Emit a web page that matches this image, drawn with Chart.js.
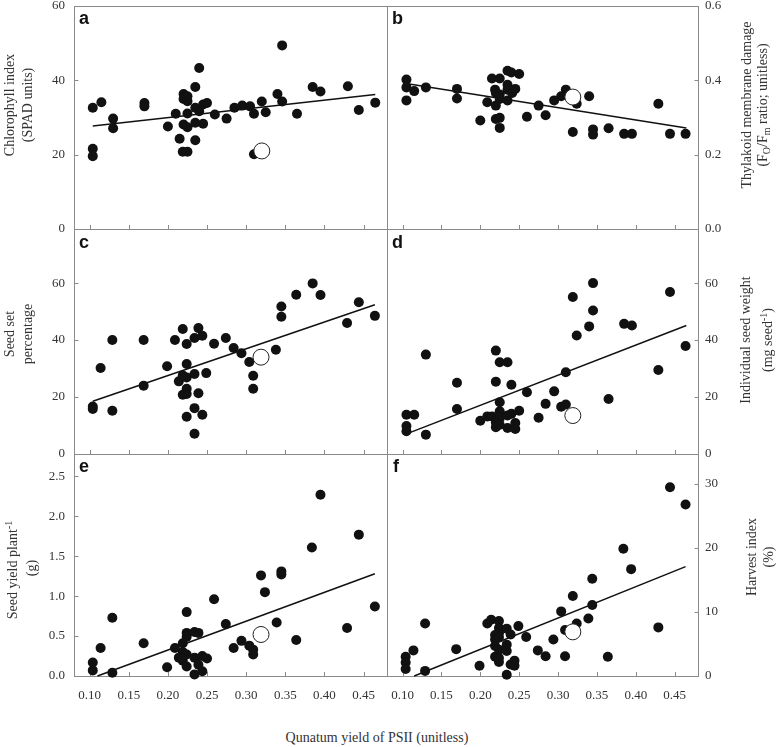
<!DOCTYPE html>
<html>
<head>
<meta charset="utf-8">
<script src="https://cdn.jsdelivr.net/npm/chart.js@4.4.1/dist/chart.umd.min.js"></script>
<style>
  body { margin: 0; background: #fff; }
  #wrap { position: relative; width: 778px; height: 747px; background: #fff; overflow: hidden;
          font-family: 'Liberation Serif', 'Times New Roman', serif; color: #333; }
  canvas { position: absolute; }
  .lbl { position: absolute; white-space: nowrap; font-size: 14px; line-height: 16px;
         transform: translate(-50%, -50%) rotate(-90deg); }
  .lbl sub, .lbl sup { font-size: 10px; }
  .letter { position: absolute; font-family: 'Liberation Sans', Arial, sans-serif; font-weight: bold;
            font-size: 18px; line-height: 18px; color: #111; }
  #xtitle { position: absolute; left: 377px; top: 738px; transform: translate(-50%, -50%);
            font-size: 14px; white-space: nowrap; }
</style>
</head>
<body>
<div id="wrap"></div>
<script>
// shared x ticks (quantum yield of PSII)
const xTicks = [0.10, 0.15, 0.20, 0.25, 0.30, 0.35, 0.40, 0.45];

// a - chlorophyll index
const aX = [0.104,0.104,0.104,0.115,0.130,0.130,0.170,0.170,0.200,0.210,0.215,0.219,0.220,0.220,0.220,0.225,0.225,0.225,0.225,0.225,0.235,0.235,0.235,0.235,0.240,0.240,0.245,0.245,0.250,0.260,0.275,0.285,0.295,0.305,0.310,0.310,0.320,0.325,0.340,0.346,0.346,0.365,0.385,0.395,0.430,0.444,0.465];
const aY = [32.6,21.6,19.6,34.1,29.7,27.1,33.9,33.0,27.6,31.0,24.3,20.8,36.3,35.0,28.1,20.8,35.7,34.4,31.1,27.4,38.2,32.6,28.6,23.9,43.3,31.7,33.5,28.3,33.9,30.8,29.7,32.6,33.2,33.0,31.0,20.1,34.3,31.4,36.3,49.4,34.3,31.0,38.2,37.0,38.4,32.0,34.0];
const aOpenX = [0.320], aOpenY = [21.0];
const aFitX = [0.104, 0.465], aFitY = [27.7, 36.2];
const aTicks = [0, 20, 40, 60];

// b - thylakoid membrane damage
const bX = [0.105,0.105,0.105,0.115,0.130,0.170,0.170,0.200,0.209,0.215,0.219,0.220,0.220,0.220,0.225,0.225,0.225,0.225,0.225,0.235,0.235,0.235,0.235,0.240,0.241,0.245,0.250,0.260,0.275,0.284,0.295,0.304,0.310,0.319,0.324,0.340,0.345,0.345,0.365,0.385,0.395,0.429,0.444,0.464];
const bY = [0.402,0.381,0.346,0.371,0.381,0.377,0.351,0.292,0.341,0.405,0.375,0.366,0.332,0.296,0.405,0.362,0.350,0.299,0.272,0.426,0.388,0.375,0.346,0.421,0.366,0.377,0.417,0.302,0.332,0.306,0.346,0.357,0.375,0.261,0.337,0.357,0.268,0.254,0.271,0.256,0.256,0.337,0.256,0.256];
const bOpenX = [0.319], bOpenY = [0.355];
const bFitX = [0.1085, 0.465], bFitY = [0.390, 0.272];
const bTicks = [0, 0.2, 0.4, 0.6];

// c - seed set percentage
const cX = [0.104,0.104,0.114,0.129,0.129,0.169,0.169,0.199,0.209,0.214,0.219,0.219,0.219,0.224,0.224,0.224,0.224,0.224,0.224,0.234,0.234,0.234,0.234,0.239,0.239,0.244,0.244,0.249,0.259,0.274,0.284,0.294,0.304,0.309,0.309,0.338,0.345,0.345,0.364,0.385,0.395,0.429,0.444,0.4645];
const cY = [16.7,15.8,30.2,40.0,15.2,40.0,24.0,30.8,40.0,25.5,43.9,27.6,20.8,38.6,31.6,26.9,22.9,21.1,13.1,40.7,28.1,16.1,7.1,44.2,21.3,41.5,13.8,28.4,38.7,40.7,37.2,35.4,32.3,27.5,22.9,36.6,51.8,48.2,55.9,59.9,55.8,46.0,53.3,48.5];
const cOpenX = [0.319], cOpenY = [34.0];
const cFitX = [0.104, 0.4645], cFitY = [18.5, 52.4];
const cTicks = [0, 20, 40, 60];

// d - individual seed weight
const dX = [0.105,0.105,0.105,0.115,0.130,0.130,0.170,0.170,0.200,0.209,0.215,0.220,0.220,0.220,0.220,0.225,0.225,0.225,0.225,0.225,0.235,0.235,0.235,0.240,0.240,0.245,0.245,0.250,0.260,0.275,0.284,0.295,0.304,0.310,0.310,0.319,0.324,0.340,0.345,0.345,0.365,0.385,0.395,0.429,0.444,0.464];
const dY = [13.8,9.8,8.0,13.8,34.9,6.8,25.0,15.8,11.7,13.2,13.2,36.3,25.4,11.1,9.4,32.2,18.2,15.0,12.5,10.3,32.2,13.5,9.1,24.3,14.1,10.9,8.8,15.2,21.7,12.7,17.6,22.0,16.6,17.4,28.7,55.1,41.6,44.8,60.0,50.4,19.3,45.7,45.1,29.5,56.9,37.9];
const dOpenX = [0.319], dOpenY = [13.5];
const dFitX = [0.1085, 0.465], dFitY = [7.4, 45.1];
const dTicks = [0, 20, 40, 60];

// e - seed yield per plant
const eX = [0.104,0.104,0.114,0.129,0.129,0.169,0.199,0.209,0.214,0.219,0.219,0.219,0.224,0.224,0.224,0.224,0.224,0.234,0.234,0.234,0.239,0.239,0.244,0.244,0.250,0.259,0.274,0.284,0.294,0.304,0.309,0.309,0.319,0.324,0.339,0.345,0.345,0.364,0.384,0.395,0.429,0.444,0.4645];
const eY = [0.17,0.07,0.35,0.73,0.04,0.41,0.11,0.35,0.23,0.41,0.30,0.19,0.80,0.54,0.49,0.27,0.12,0.55,0.23,0.02,0.54,0.14,0.25,0.06,0.22,0.96,0.65,0.35,0.44,0.38,0.33,0.27,1.26,1.05,0.67,1.31,1.27,0.45,1.61,2.27,0.60,1.77,0.87];
const eOpenX = [0.319], eOpenY = [0.52];
const eFitX = [0.110, 0.4645], eFitY = [0.0, 1.28];
const eTicks = [0, 0.5, 1.0, 1.5, 2.0, 2.5];

// f - harvest index
const fX = [0.104,0.104,0.104,0.114,0.129,0.129,0.169,0.199,0.209,0.214,0.219,0.219,0.219,0.219,0.224,0.224,0.224,0.224,0.224,0.224,0.224,0.234,0.234,0.234,0.234,0.239,0.239,0.244,0.244,0.249,0.259,0.274,0.284,0.294,0.304,0.309,0.309,0.319,0.324,0.339,0.344,0.344,0.364,0.384,0.394,0.429,0.444,0.464];
const fY = [3.0,2.1,1.1,4.0,8.2,0.8,4.2,1.6,8.2,8.8,6.4,5.7,4.7,3.0,8.6,7.5,6.7,6.0,4.1,2.8,2.2,7.4,4.9,3.9,0.2,6.5,1.8,2.4,1.6,7.8,6.1,4.0,3.1,5.7,10.1,7.2,3.1,12.5,8.2,9.0,15.2,11.1,3.0,19.9,16.7,7.6,29.5,26.8];
const fOpenX = [0.319], fOpenY = [6.9];
const fFitX = [0.115, 0.464], fFitY = [0.0, 17.1];
const fTicks = [0, 10, 20, 30];


Chart.defaults.animation = false;
Chart.defaults.font.family = "'Liberation Serif', 'Times New Roman', serif";

const wrap = document.getElementById('wrap');
const pts = (xs, ys) => xs.map((x, i) => ({ x: x, y: ys[i] }));

// frame + inward tick marks
const frame = {
    id: 'frame',
    beforeDatasetsDraw(chart) {
        const { ctx, chartArea: a, scales } = chart;
        ctx.save();
        ctx.strokeStyle = '#8a8a8a';
        ctx.lineWidth = 1;
        ctx.strokeRect(a.left + 0.5, a.top + 0.5, a.right - a.left, a.bottom - a.top);
        ctx.beginPath();
        scales.x.ticks.forEach(t => {
            const p = Math.round(scales.x.getPixelForValue(t.value)) + 0.5;
            ctx.moveTo(p, a.bottom);
            ctx.lineTo(p, a.bottom - 4);
        });
        const y = scales.y;
        const right = y.position === 'right';
        y.ticks.forEach(t => {
            const p = Math.round(y.getPixelForValue(t.value)) + 0.5;
            const x0 = right ? a.right + 0.5 : a.left + 0.5;
            ctx.moveTo(x0, p);
            ctx.lineTo(right ? x0 - 4 : x0 + 4, p);
        });
        ctx.stroke();
        ctx.restore();
    }
};

function makePanel(p) {
    const right = p.side === 'right';
    const padL = right ? 10 : 0;
    const padR = right ? 0 : 2;
    const yW = right ? 50 : 74;
    const plotW = p.r - p.l;
    const plotH = p.b - p.t;
    const canvas = document.createElement('canvas');
    canvas.width = padL + plotW + padR + (right ? yW : 0) + (right ? 0 : yW);
    canvas.height = 8 + plotH + 30;
    canvas.style.left = (right ? p.l - padL : p.l - yW) + 'px';
    canvas.style.top = (p.t - 8) + 'px';
    wrap.appendChild(canvas);

    new Chart(canvas, {
        type: 'scatter',
        data: {
            datasets: [
                {
                    data: pts(p.openX, p.openY),
                    backgroundColor: '#fff',
                    borderColor: '#222',
                    borderWidth: 1,
                    pointRadius: 8,
                    order: 0,
                    clip: false
                },
                {
                    data: pts(p.x, p.y),
                    backgroundColor: '#111',
                    borderWidth: 0,
                    pointRadius: 5,
                    order: 1,
                    clip: false
                },
                {
                    data: pts(p.fitX, p.fitY),
                    showLine: true,
                    borderColor: '#111',
                    borderWidth: 1.5,
                    pointRadius: 0,
                    order: 2,
                    clip: false
                }
            ]
        },
        options: {
            responsive: false,
            events: [],
            layout: { autoPadding: false, padding: { left: padL, right: padR, top: 8, bottom: 0 } },
            plugins: { legend: { display: false }, tooltip: { enabled: false } },
            scales: {
                x: {
                    type: 'linear',
                    min: 0.08,
                    max: 0.48,
                    afterBuildTicks: s => { s.ticks = xTicks.map(v => ({ value: v })); },
                    afterFit: s => { s.height = 30; s.paddingLeft = 0; s.paddingRight = 0; },
                    grid: { display: false, drawTicks: false },
                    border: { display: false },
                    ticks: {
                        display: p.showX,
                        padding: 12,
                        color: '#333',
                        font: { size: 13 },
                        maxRotation: 0,
                        callback: v => Number(v).toFixed(2)
                    }
                },
                y: {
                    type: 'linear',
                    position: p.side,
                    min: 0,
                    max: p.max,
                    afterBuildTicks: s => { s.ticks = p.ticks.map(v => ({ value: v })); },
                    afterFit: s => { s.width = yW; s.paddingTop = 0; s.paddingBottom = 0; },
                    grid: { display: false, drawTicks: false },
                    border: { display: false },
                    ticks: {
                        padding: right ? 7 : 9,
                        color: '#333',
                        font: { size: 13 },
                        callback: v => Number(v).toFixed(p.dec)
                    }
                }
            }
        },
        plugins: [frame]
    });
}

const L = 74, M = 387, R = 698;
makePanel({ l: L, r: M, t: 6, b: 229, side: 'left', max: 60, ticks: aTicks, dec: 0, showX: false,
    x: aX, y: aY, openX: aOpenX, openY: aOpenY, fitX: aFitX, fitY: aFitY });
makePanel({ l: M, r: R, t: 6, b: 229, side: 'right', max: 0.6, ticks: bTicks, dec: 1, showX: false,
    x: bX, y: bY, openX: bOpenX, openY: bOpenY, fitX: bFitX, fitY: bFitY });
makePanel({ l: L, r: M, t: 229, b: 454, side: 'left', max: 79, ticks: cTicks, dec: 0, showX: false,
    x: cX, y: cY, openX: cOpenX, openY: cOpenY, fitX: cFitX, fitY: cFitY });
makePanel({ l: M, r: R, t: 229, b: 454, side: 'right', max: 79, ticks: dTicks, dec: 0, showX: false,
    x: dX, y: dY, openX: dOpenX, openY: dOpenY, fitX: dFitX, fitY: dFitY });
makePanel({ l: L, r: M, t: 454, b: 676, side: 'left', max: 2.78, ticks: eTicks, dec: 1, showX: true,
    x: eX, y: eY, openX: eOpenX, openY: eOpenY, fitX: eFitX, fitY: eFitY });
makePanel({ l: M, r: R, t: 454, b: 676, side: 'right', max: 34.7, ticks: fTicks, dec: 0, showX: true,
    x: fX, y: fY, openX: fOpenX, openY: fOpenY, fitX: fFitX, fitY: fFitY });

// axis titles (rotated, one div per line)
function label(html, cx, cy) {
    const d = document.createElement('div');
    d.className = 'lbl';
    d.innerHTML = html;
    d.style.left = cx + 'px';
    d.style.top = cy + 'px';
    wrap.appendChild(d);
}
label('Chlorophyll index', 10, 105);
label('(SPAD units)', 28, 105);
label('Thylakoid membrane damage', 747, 105);
label('(F<sub>O</sub>/F<sub>m</sub> ratio; unitless)', 765, 105);
label('Seed set', 10, 334);
label('percentage', 28, 334);
label('Individual seed weight', 746, 340);
label('(mg seed<sup>-1</sup>)', 766, 340);
label('Seed yield plant<sup>-1</sup>', 11, 570);
label('(g)', 32, 568);
label('Harvest index', 752, 557);
label('(%)', 769, 557);

// panel letters
[['a', 79, 9], ['b', 392, 9], ['c', 79, 233], ['d', 392, 233], ['e', 79, 457], ['f', 393, 457]].forEach(l => {
    const d = document.createElement('div');
    d.className = 'letter';
    d.textContent = l[0];
    d.style.left = l[1] + 'px';
    d.style.top = l[2] + 'px';
    wrap.appendChild(d);
});

const xt = document.createElement('div');
xt.id = 'xtitle';
xt.textContent = 'Qunatum yield of PSII (unitless)';
wrap.appendChild(xt);
</script>
</body>
</html>
